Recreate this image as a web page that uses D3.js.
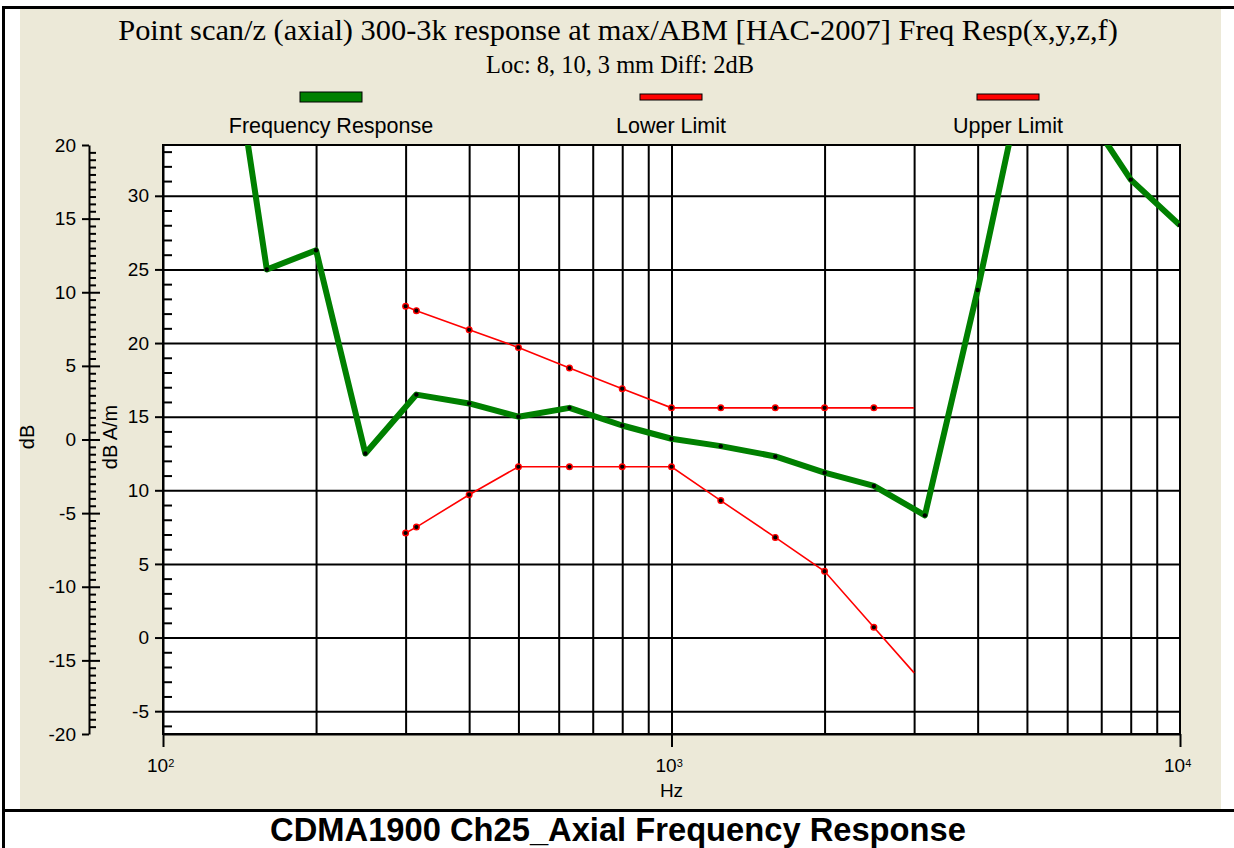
<!DOCTYPE html>
<html>
<head>
<meta charset="utf-8">
<script src="https://cdn.jsdelivr.net/npm/d3@7"></script>
<style>
  html, body { margin: 0; padding: 0; background: #fff; }
  svg { display: block; }
  .sans { font-family: "Liberation Sans", Arial, sans-serif; }
  .serif { font-family: "Liberation Serif", "Times New Roman", serif; }
</style>
</head>
<body>
<svg id="chart" width="1234" height="848"></svg>
<script>
// Frequency points (Hz) of the measured response
const respFreq = [125, 160, 200, 250, 315, 400, 500, 630, 800, 1000, 1250, 1600, 2000, 2500, 3150, 4000, 5000, 6300, 8000, 10000];
// Measured response, dB A/m
const respLevel = [49.5, 25.0, 26.3, 12.5, 16.5, 15.9, 15.0, 15.6, 14.4, 13.5, 13.0, 12.3, 11.2, 10.3, 8.3, 23.6, 39.2, 36.5, 31.1, 28.0];

// Limit mask frequencies (Hz)
const limitFreq = [300, 315, 400, 500, 630, 800, 1000, 1250, 1600, 2000, 2500, 3000];
// Upper and lower limit levels, dB A/m
const upperLevel = [22.5, 22.2, 20.9, 19.7, 18.3, 16.9, 15.6, 15.6, 15.6, 15.6, 15.6, 15.6];
const lowerLevel = [7.1, 7.5, 9.7, 11.6, 11.6, 11.6, 11.6, 9.3, 6.8, 4.5, 0.7, -2.4];
// Last limit point is an end point without marker
const limitMarked = [true, true, true, true, true, true, true, true, true, true, true, false];

// Axis ticks
const outerTicks = [-20, -15, -10, -5, 0, 5, 10, 15, 20];
const innerTicks = [-5, 0, 5, 10, 15, 20, 25, 30];
const decadeTicks = [100, 1000, 10000];
const decadeExp = ["2", "3", "4"];
const gridFreq = [200, 300, 400, 500, 600, 700, 800, 900, 1000, 2000, 3000, 4000, 5000, 6000, 7000, 8000, 9000];

// Text
const titleText = "Point scan/z (axial) 300-3k response at max/ABM [HAC-2007] Freq Resp(x,y,z,f)";
const subtitleText = "Loc: 8, 10, 3 mm Diff: 2dB";
const legendNames = ["Frequency Response", "Lower Limit", "Upper Limit"];
const captionText = "CDMA1900 Ch25_Axial Frequency Response";

const W = 1234, H = 848;
const plot = { left: 163, right: 1180, top: 145, bottom: 734 };
const beige = "#ECE9D8";
const green = "#008000";
const red = "#FF0000";
const plainNum = d => String(d);   // hyphen-minus like the instrument software

const svg = d3.select("#chart");

// page frame
svg.append("rect").attr("x", 0).attr("y", 0).attr("width", W).attr("height", H).attr("fill", "#fff");
svg.append("rect").attr("x", 20).attr("y", 9).attr("width", 1201).attr("height", 800).attr("fill", beige);
svg.append("rect").attr("x", 2).attr("y", 6).attr("width", W - 2).attr("height", 3).attr("fill", "#000");
svg.append("rect").attr("x", 2).attr("y", 6).attr("width", 3).attr("height", H - 6).attr("fill", "#000");
svg.append("rect").attr("x", 2).attr("y", 809).attr("width", W - 2).attr("height", 3).attr("fill", "#000");

// scales
const x = d3.scaleLog().domain([100, 10000]).range([plot.left, plot.right]);
const yIn = d3.scaleLinear().domain([-6.55, 33.45]).range([plot.bottom, plot.top]);
const yOut = d3.scaleLinear().domain([-20, 20]).range([plot.bottom, plot.top]);

// plot background
svg.append("rect")
  .attr("x", plot.left).attr("y", plot.top)
  .attr("width", plot.right - plot.left).attr("height", plot.bottom - plot.top)
  .attr("fill", "#fff");

svg.append("clipPath").attr("id", "plotClip")
  .append("rect")
  .attr("x", plot.left).attr("y", plot.top)
  .attr("width", plot.right - plot.left).attr("height", plot.bottom - plot.top);

// grid
const gridV = svg.append("g").attr("transform", `translate(0,${plot.bottom})`)
  .call(d3.axisBottom(x).tickValues(gridFreq).tickSize(-(plot.bottom - plot.top)).tickFormat(""));
gridV.select(".domain").remove();
gridV.selectAll("line").attr("stroke", "#000").attr("stroke-width", 2);

const gridH = svg.append("g").attr("transform", `translate(${plot.left},0)`)
  .call(d3.axisLeft(yIn).tickValues(innerTicks).tickSize(-(plot.right - plot.left)).tickFormat(""));
gridH.select(".domain").remove();
gridH.selectAll("line").attr("stroke", "#000").attr("stroke-width", 2);

// plot frame
svg.append("rect")
  .attr("x", plot.left).attr("y", plot.top)
  .attr("width", plot.right - plot.left).attr("height", plot.bottom - plot.top)
  .attr("fill", "none").attr("stroke", "#000").attr("stroke-width", 2);

function styleAxis(g) {
  g.selectAll("path.domain").attr("stroke", "#000").attr("stroke-width", 2);
  g.selectAll(".tick line").attr("stroke", "#000").attr("stroke-width", 2);
  g.selectAll(".tick text")
    .attr("fill", "#000")
    .style("font-family", '"Liberation Sans", Arial, sans-serif')
    .style("font-size", "19px");
}

// outer dB axis
const outerX = 89;
const outerMajor = svg.append("g").attr("transform", `translate(${outerX},0)`)
  .call(d3.axisLeft(yOut).tickValues(outerTicks).tickSize(7).tickSizeOuter(0).tickPadding(6).tickFormat(plainNum));
styleAxis(outerMajor);
const outerCross = svg.append("g").attr("transform", `translate(${outerX},0)`)
  .call(d3.axisRight(yOut).tickValues(outerTicks.filter(v => Math.abs(v) < 20)).tickSize(11).tickSizeOuter(0).tickFormat(""));
outerCross.select(".domain").remove();
styleAxis(outerCross);
const outerMinorVals = d3.range(-19.5, 20, 0.5).filter(v => v % 5 !== 0);
const outerMinor = svg.append("g").attr("transform", `translate(${outerX},0)`)
  .call(d3.axisRight(yOut).tickValues(outerMinorVals).tickSize(7).tickSizeOuter(0).tickFormat(""));
outerMinor.select(".domain").remove();
styleAxis(outerMinor);

// inner dB A/m axis
const innerMajor = svg.append("g").attr("transform", `translate(${plot.left},0)`)
  .call(d3.axisLeft(yIn).tickValues(innerTicks).tickSize(8).tickSizeOuter(0).tickPadding(6).tickFormat(plainNum));
styleAxis(innerMajor);
const innerMinorVals = d3.range(-6, 34, 1).filter(v => v % 5 !== 0);
const innerMinor = svg.append("g").attr("transform", `translate(${plot.left},0)`)
  .call(d3.axisRight(yIn).tickValues(innerMinorVals).tickSize(9).tickSizeOuter(0).tickFormat(""));
innerMinor.select(".domain").remove();
styleAxis(innerMinor);

// frequency axis
const xAxis = svg.append("g").attr("transform", `translate(0,${plot.bottom})`)
  .call(d3.axisBottom(x).tickValues(decadeTicks).tickSize(13).tickSizeOuter(0).tickPadding(6).tickFormat(() => "10"));
styleAxis(xAxis);
xAxis.selectAll(".tick text")
  .attr("dy", "1.0em")
  .attr("dx", "-0.15em")
  .append("tspan")
  .attr("dy", "-0.45em")
  .style("font-size", "11px")
  .text((d, i) => decadeExp[i]);

// axis titles
svg.append("text").attr("class", "sans")
  .attr("transform", `translate(34,437) rotate(-90)`)
  .attr("text-anchor", "middle").style("font-size", "20px").text("dB");
svg.append("text").attr("class", "sans")
  .attr("transform", `translate(117,437) rotate(-90)`)
  .attr("text-anchor", "middle").style("font-size", "20px").text("dB A/m");
svg.append("text").attr("class", "sans")
  .attr("x", x(1000)).attr("y", 797)
  .attr("text-anchor", "middle").style("font-size", "19px").text("Hz");

// series
const clipG = svg.append("g").attr("clip-path", "url(#plotClip)");
const line = d3.line().x(d => x(d[0])).y(d => yIn(d[1]));

const respData = respFreq.map((f, i) => [f, respLevel[i]]);
const upperData = limitFreq.map((f, i) => [f, upperLevel[i]]);
const lowerData = limitFreq.map((f, i) => [f, lowerLevel[i]]);

[upperData, lowerData].forEach(data => {
  clipG.append("path").datum(data)
    .attr("d", line).attr("fill", "none")
    .attr("stroke", red).attr("stroke-width", 1.6);
});
clipG.append("path").datum(respData)
  .attr("d", line).attr("fill", "none")
  .attr("stroke", green).attr("stroke-width", 6)
  .attr("stroke-linejoin", "round");

[upperData, lowerData].forEach(data => {
  clipG.selectAll(null).data(data.filter((d, i) => limitMarked[i])).enter()
    .append("circle")
    .attr("cx", d => x(d[0])).attr("cy", d => yIn(d[1]))
    .attr("r", 2.8).attr("fill", "#000").attr("stroke", red).attr("stroke-width", 1.4);
});
clipG.selectAll(null).data(respData).enter()
  .append("circle")
  .attr("cx", d => x(d[0])).attr("cy", d => yIn(d[1]))
  .attr("r", 2.2).attr("fill", "#000");

// legend
const legendX = [331, 671, 1008];
const legendColor = [green, red, red];
const legendH = [10, 6, 6];
legendNames.forEach((name, i) => {
  svg.append("rect")
    .attr("x", legendX[i] - 31).attr("y", 97 - legendH[i] / 2)
    .attr("width", 62).attr("height", legendH[i])
    .attr("fill", legendColor[i]).attr("stroke", "#000").attr("stroke-width", 1);
  svg.append("text").attr("class", "sans")
    .attr("x", legendX[i]).attr("y", 133)
    .attr("text-anchor", "middle").style("font-size", "21.5px")
    .text(name);
});

// fit a text element to a target width by scaling its font size
function fitWidth(sel, target) {
  const base = parseFloat(sel.style("font-size"));
  const w = sel.node().getComputedTextLength();
  sel.style("font-size", (base * target / w).toFixed(2) + "px");
}

const title = svg.append("text").attr("class", "serif")
  .attr("x", 618).attr("y", 40).attr("text-anchor", "middle")
  .style("font-size", "26px").text(titleText);
fitWidth(title, 1000);

const subtitle = svg.append("text").attr("class", "serif")
  .attr("x", 620).attr("y", 73).attr("text-anchor", "middle")
  .style("font-size", "17px").text(subtitleText);
fitWidth(subtitle, 268);

// caption under the chart panel
const caption = svg.append("text").attr("class", "sans")
  .attr("x", 618).attr("y", 841).attr("text-anchor", "middle")
  .style("font-size", "26px").style("font-weight", "bold")
  .text(captionText);
fitWidth(caption, 696);
</script>
</body>
</html>
